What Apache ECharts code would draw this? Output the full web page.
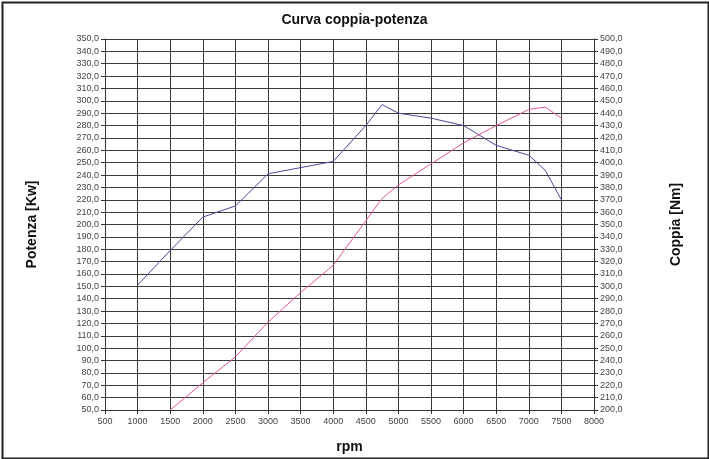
<!DOCTYPE html>
<html>
<head>
<meta charset="utf-8">
<script src="https://cdn.jsdelivr.net/npm/echarts@6/dist/echarts.min.js"></script>
<style>
html,body{margin:0;padding:0;background:#fff;}
#c{width:709px;height:459px;}
</style>
</head>
<body>
<div id="c"></div>
<script>
// Data
const rpmCoppia = [1000, 1500, 2000, 2500, 3000, 3500, 4000, 4500, 4750, 5000, 5500, 6000, 6500, 7000, 7250, 7500];
const coppiaNm  = [301, 329, 356, 365, 391, 396, 401, 430, 447, 440, 436, 430, 414, 406, 394, 370];
const rpmPotenza = [1500, 2000, 2500, 3000, 3500, 4000, 4500, 4750, 5000, 5500, 6000, 6500, 7000, 7250, 7500];
const potenzaKw  = [50, 72, 93, 121, 145, 167, 203, 221, 232, 249, 266, 280, 293, 295, 286];

const titleText = 'Curva coppia-potenza';
const xName = 'rpm';
const leftName = 'Potenza [Kw]';
const rightName = 'Coppia [Nm]';

const fmt = v => v.toFixed(1).replace('.', ',');
const FONT = 'Liberation Sans, Arial, sans-serif';

const chart = echarts.init(document.getElementById('c'), null, {renderer: 'canvas'});
chart.setOption({
  animation: false,
  backgroundColor: '#fff',
  title: {
    text: titleText, left: 'center', top: 8,
    textStyle: {fontFamily: FONT, fontSize: 14, fontWeight: 'bold', color: '#111'}
  },
  graphic: [{
    type: 'rect', left: 0, top: 0, silent: true,
    shape: {x: 1, y: 1, width: 706, height: 456},
    style: {fill: 'none', stroke: '#222', lineWidth: 2}
  }],
  grid: {left: 105, right: 115, top: 39, bottom: 46},
  xAxis: {
    type: 'value', min: 500, max: 8000, interval: 500,
    name: xName, nameLocation: 'middle', nameGap: 30,
    nameTextStyle: {fontFamily: FONT, fontSize: 14, fontWeight: 'bold', color: '#111'},
    axisLine: {lineStyle: {color: '#333', width: 1}},
    axisTick: {show: true, length: 4, lineStyle: {color: '#333'}},
    axisLabel: {fontFamily: FONT, fontSize: 9, color: '#444', margin: 7, formatter: v => String(v)},
    splitLine: {show: true, lineStyle: {color: '#3a3a3a', width: 1}}
  },
  yAxis: [{
    type: 'value', min: 50, max: 350, interval: 10, position: 'left',
    name: leftName, nameLocation: 'middle', nameGap: 66, nameRotate: 90,
    nameTextStyle: {fontFamily: FONT, fontSize: 14, fontWeight: 'bold', color: '#111'},
    axisLine: {show: true, lineStyle: {color: '#333'}},
    axisTick: {show: true, length: 4, lineStyle: {color: '#333'}},
    axisLabel: {fontFamily: FONT, fontSize: 9, color: '#444', margin: 6, formatter: fmt},
    splitLine: {show: true, lineStyle: {color: '#3a3a3a', width: 1}}
  }, {
    type: 'value', min: 200, max: 500, interval: 10, position: 'right',
    name: rightName, nameLocation: 'middle', nameGap: 75, nameRotate: 90,
    nameTextStyle: {fontFamily: FONT, fontSize: 14, fontWeight: 'bold', color: '#111'},
    axisLine: {show: true, lineStyle: {color: '#333'}},
    axisTick: {show: true, length: 4, lineStyle: {color: '#333'}},
    axisLabel: {fontFamily: FONT, fontSize: 9, color: '#444', margin: 6, formatter: fmt},
    splitLine: {show: false}
  }],
  series: [{
    name: 'Coppia', type: 'line', yAxisIndex: 1,
    data: rpmCoppia.map((r, i) => [r, coppiaNm[i]]),
    showSymbol: false, lineStyle: {color: '#4a4a9c', width: 1}, itemStyle: {color: '#4a4a9c'}
  }, {
    name: 'Potenza', type: 'line', yAxisIndex: 0,
    data: rpmPotenza.map((r, i) => [r, potenzaKw[i]]),
    showSymbol: false, lineStyle: {color: '#e2569a', width: 1}, itemStyle: {color: '#e2569a'}
  }]
});
</script>
</body>
</html>
